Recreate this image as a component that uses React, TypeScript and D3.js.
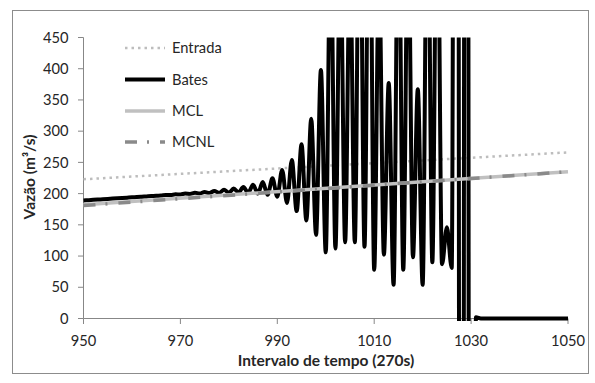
import React, { useEffect } from 'react';
import * as d3 from 'd3';

const xTicks = [950, 970, 990, 1010, 1030, 1050];
const yTicks = [0, 50, 100, 150, 200, 250, 300, 350, 400, 450];

const trendT = [950, 1050];
const entrada = [223, 266];
const mcl = [182, 235];
const mcnl = [181, 235];

const batesStart = 950;
const bates = [
  189, 189.5, 190, 190.5, 191, 191.5, 192, 192.5, 193, 193.5, 194,
  194.5, 195, 195.5, 196, 196.6, 196.9, 197.7, 197.8, 198.8, 198.7,
  200, 199.5, 201.3, 200.2, 202.7, 200.8, 204.3, 201.2, 206, 201.5,
  208, 201.7, 210.5, 201.3, 214, 200, 218.5, 198, 224.5, 195,
  238, 185, 254, 172, 279, 157, 320, 134, 398, 106,
  620, 112, 600, 122, 580, 122, 750, 115, 800, 78,
  560, 102, 377, 54, 700, 78, 650, 98, 367, 54,
  750, 90, 750, 87, 146, 81, 3000, -3000, 3000, -3000,
  2, 0, 0, 0, 0, 0, 0, 0, 0, 0,
  0, 0, 0, 0, 0, 0, 0, 0, 0, 0,
];

const legendItems = ['Entrada', 'Bates', 'MCL', 'MCNL'];

const W = 595;
const H = 383;
const FONT = 'Lato, "Open Sans", sans-serif';
const TXT = '#262626';
const AX = '#878787';

export default function App() {
  useEffect(() => {
    document.body.style.margin = '0';
  }, []);

  const x = d3.scaleLinear().domain([950, 1050]).range([83.5, 568]);
  const y = d3.scaleLinear().domain([0, 450]).range([318.5, 37.5]);

  const trendLine = (vals: number[]) =>
    d3.line<number>().x((_, i) => x(trendT[i])).y((v) => y(v))(vals) || '';

  const batesPath =
    d3
      .line<number>()
      .x((_, i) => x(batesStart + i))
      .y((v) => y(v))
      .curve(d3.curveMonotoneX)(bates) || '';

  const legendY = [48, 79.5, 111, 142];

  const legendStyles = [
    { stroke: '#bdbdbd', width: 2.5, dash: '2.5 4' },
    { stroke: '#000000', width: 4, dash: undefined },
    { stroke: '#c0c0c0', width: 3.5, dash: undefined },
    { stroke: '#8a8a8a', width: 3.5, dash: '12 10 2 11' },
  ];

  return (
    <svg
      width={W}
      height={H}
      style={{ position: 'fixed', left: 0, top: 0, display: 'block', background: '#fff' }}
      fontFamily={FONT}
    >
      <defs>
        <clipPath id="plotClip">
          <rect x={80} y={y(450)} width={492} height={y(0) - y(450) + 2.5} />
        </clipPath>
      </defs>
      <rect x={12.5} y={10.5} width={576} height={363} fill="#fff" stroke="#8c8c8c" strokeWidth={1} />

      {/* axes */}
      <line x1={x(950)} x2={x(950)} y1={y(450)} y2={y(0)} stroke={AX} strokeWidth={1} />
      <line x1={x(950)} x2={x(1050)} y1={y(0)} y2={y(0)} stroke={AX} strokeWidth={1} />
      {yTicks.map((t) => (
        <g key={'y' + t}>
          <line x1={x(950) - 5.5} x2={x(950)} y1={y(t)} y2={y(t)} stroke={AX} strokeWidth={1} />
          <text x={68.5} y={y(t) + 5.2} textAnchor="end" fontSize={14.7} fill={TXT}>
            {t}
          </text>
        </g>
      ))}
      {xTicks.map((t) => (
        <g key={'x' + t}>
          <line x1={x(t)} x2={x(t)} y1={y(0)} y2={y(0) + 5.5} stroke={AX} strokeWidth={1} />
          <text x={x(t)} y={345.5} textAnchor="middle" fontSize={14.7} fill={TXT}>
            {t}
          </text>
        </g>
      ))}

      {/* series */}
      <g clipPath="url(#plotClip)">
        <path d={trendLine(entrada)} fill="none" stroke="#bdbdbd" strokeWidth={2.5} strokeDasharray="2.5 4" />
        <path d={batesPath} fill="none" stroke="#000" strokeWidth={4} strokeLinejoin="round" />
        <path d={trendLine(mcl)} fill="none" stroke="#c0c0c0" strokeWidth={3.5} />
        <path d={trendLine(mcnl)} fill="none" stroke="#8a8a8a" strokeWidth={3.5} strokeDasharray="12 10 2 11" />
      </g>

      {/* legend */}
      {legendItems.map((name, i) => (
        <g key={name}>
          <line
            x1={125}
            x2={165}
            y1={legendY[i]}
            y2={legendY[i]}
            stroke={legendStyles[i].stroke}
            strokeWidth={legendStyles[i].width}
            strokeDasharray={legendStyles[i].dash}
          />
          <text x={172} y={legendY[i] + 5.2} fontSize={14.7} fill={TXT}>
            {name}
          </text>
        </g>
      ))}

      {/* axis titles */}
      <text x={326} y={366} textAnchor="middle" fontSize={15.5} fontWeight="bold" fill={TXT}>
        Intervalo de tempo (270s)
      </text>
      <text
        transform={`translate(35, 177) rotate(-90)`}
        textAnchor="middle"
        fontSize={15.5}
        fontWeight="bold"
        fill={TXT}
      >
        Vazão (m³/s)
      </text>
    </svg>
  );
}
